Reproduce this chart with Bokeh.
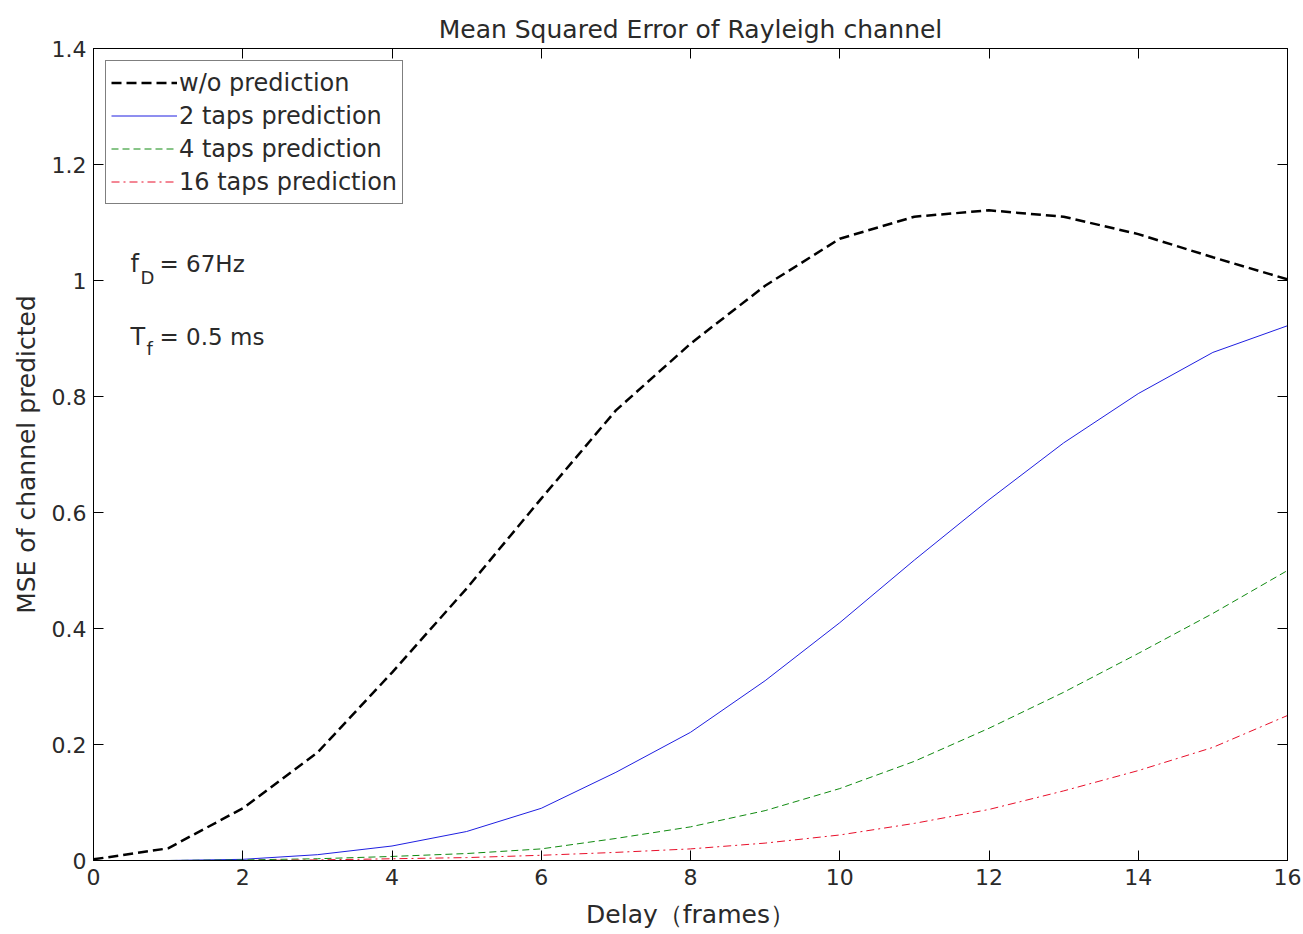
from bokeh.plotting import figure
from bokeh.models import (LinearAxis, FixedTicker, CustomJSTickFormatter, Legend, LegendItem,
                          Label, Range1d)
from bokeh.embed import file_html
from bokeh.resources import INLINE

# ---------------- data ----------------
delay = list(range(0, 17))
mse_no_pred = [0.002, 0.021, 0.090, 0.186, 0.324, 0.469, 0.624, 0.776, 0.891, 0.991,
               1.072, 1.110, 1.121, 1.110, 1.080, 1.040, 1.002]
mse_2taps = [0.000, 0.000, 0.002, 0.010, 0.025, 0.050, 0.090, 0.152, 0.221, 0.310,
             0.410, 0.518, 0.622, 0.720, 0.805, 0.876, 0.922]
mse_4taps = [0.000, 0.000, 0.001, 0.003, 0.007, 0.012, 0.020, 0.038, 0.058, 0.086,
             0.124, 0.171, 0.228, 0.290, 0.357, 0.426, 0.500]
mse_16taps = [0.000, 0.000, 0.000, 0.001, 0.003, 0.005, 0.009, 0.014, 0.020, 0.030,
              0.044, 0.064, 0.088, 0.120, 0.155, 0.195, 0.250]
x_ticks = [0, 2, 4, 6, 8, 10, 12, 14, 16]
y_ticks = [0, 0.2, 0.4, 0.6, 0.8, 1.0, 1.2, 1.4]
series_labels = ["w/o prediction", "2 taps prediction", "4 taps prediction", "16 taps prediction"]

FONT = "DejaVu Sans"
TXT = "#2a2a2a"

p = figure(width=1303, height=934, output_backend="svg", toolbar_location=None,
           x_range=Range1d(0, 16), y_range=Range1d(0, 1.4),
           min_border_left=93, min_border_right=16, min_border_top=48, min_border_bottom=74,
           x_axis_label="Delay（frames）", y_axis_label="MSE of channel predicted")
p.title.text = "Mean Squared Error of Rayleigh channel"
p.title.align = "center"
p.title.text_font = FONT
p.title.text_font_size = "25px"
p.title.text_font_style = "normal"
p.title.text_color = TXT
p.title.offset = 0
p.grid.visible = False
p.outline_line_color = "black"
p.background_fill_color = "white"
p.border_fill_color = "white"

fmt = CustomJSTickFormatter(code="return String(Math.round(tick*10)/10);")

def style_axis(ax, ticks):
    ax.ticker = FixedTicker(ticks=ticks)
    ax.major_tick_in = 10
    ax.major_tick_out = 0
    ax.minor_tick_line_color = None
    ax.axis_line_color = "black"
    ax.major_tick_line_color = "black"
    ax.major_label_text_font = FONT
    ax.major_label_text_font_size = "22px"
    ax.major_label_text_color = TXT
    ax.axis_label_text_font = FONT
    ax.axis_label_text_font_size = "25px"
    ax.axis_label_text_font_style = "normal"
    ax.axis_label_text_color = TXT
    ax.formatter = fmt

style_axis(p.xaxis[0], x_ticks)
style_axis(p.yaxis[0], y_ticks)
p.xaxis[0].major_label_standoff = 8
p.xaxis[0].axis_label_standoff = 12
p.yaxis[0].major_label_standoff = 7
p.yaxis[0].axis_label_standoff = 8

top_ax = LinearAxis()
style_axis(top_ax, x_ticks)
top_ax.major_label_text_font_size = "0px"
top_ax.major_label_text_color = None
right_ax = LinearAxis()
style_axis(right_ax, y_ticks)
right_ax.major_label_text_font_size = "0px"
right_ax.major_label_text_color = None
p.add_layout(top_ax, "above")
p.add_layout(right_ax, "right")

r0 = p.line(delay, mse_no_pred, line_color="black", line_width=2.5, line_dash="10 5")
r1 = p.line(delay, mse_2taps, line_color="#1f1fe0", line_width=1)
r2 = p.line(delay, mse_4taps, line_color="#108a10", line_width=1, line_dash="7 4")
r3 = p.line(delay, mse_16taps, line_color="#e80f2a", line_width=1, line_dash="8 4 2 4")

legend = Legend(items=[LegendItem(label=lab, renderers=[r]) for lab, r in
                       zip(series_labels, [r0, r1, r2, r3])],
                location="top_left")
legend.margin = 12
legend.padding = 5
legend.spacing = 0
legend.label_height = 33
legend.glyph_height = 33
legend.glyph_width = 66
legend.label_standoff = 2
legend.label_text_font = FONT
legend.label_text_font_size = "24px"
legend.label_text_color = TXT
legend.border_line_color = "black"
legend.border_line_width = 1
legend.background_fill_alpha = 1
p.add_layout(legend)

def lab(x, y, text, size):
    p.add_layout(Label(x=x, y=y, x_units="screen", y_units="screen", text=text,
                       text_font=FONT, text_font_size=size, text_color=TXT,
                       text_baseline="alphabetic"))

# annotations (screen coords measured from frame bottom-left)
lab(37, 860 - 263, "f", "24px")
lab(47, 860 - 277, "D", "18px")
lab(66, 860 - 263, "= 67Hz", "23px")
lab(37, 860 - 336, "T", "24px")
lab(53, 860 - 348, "f", "18px")
lab(66, 860 - 336, "= 0.5 ms", "23px")

open("out.html", "w").write(file_html(p, INLINE))
